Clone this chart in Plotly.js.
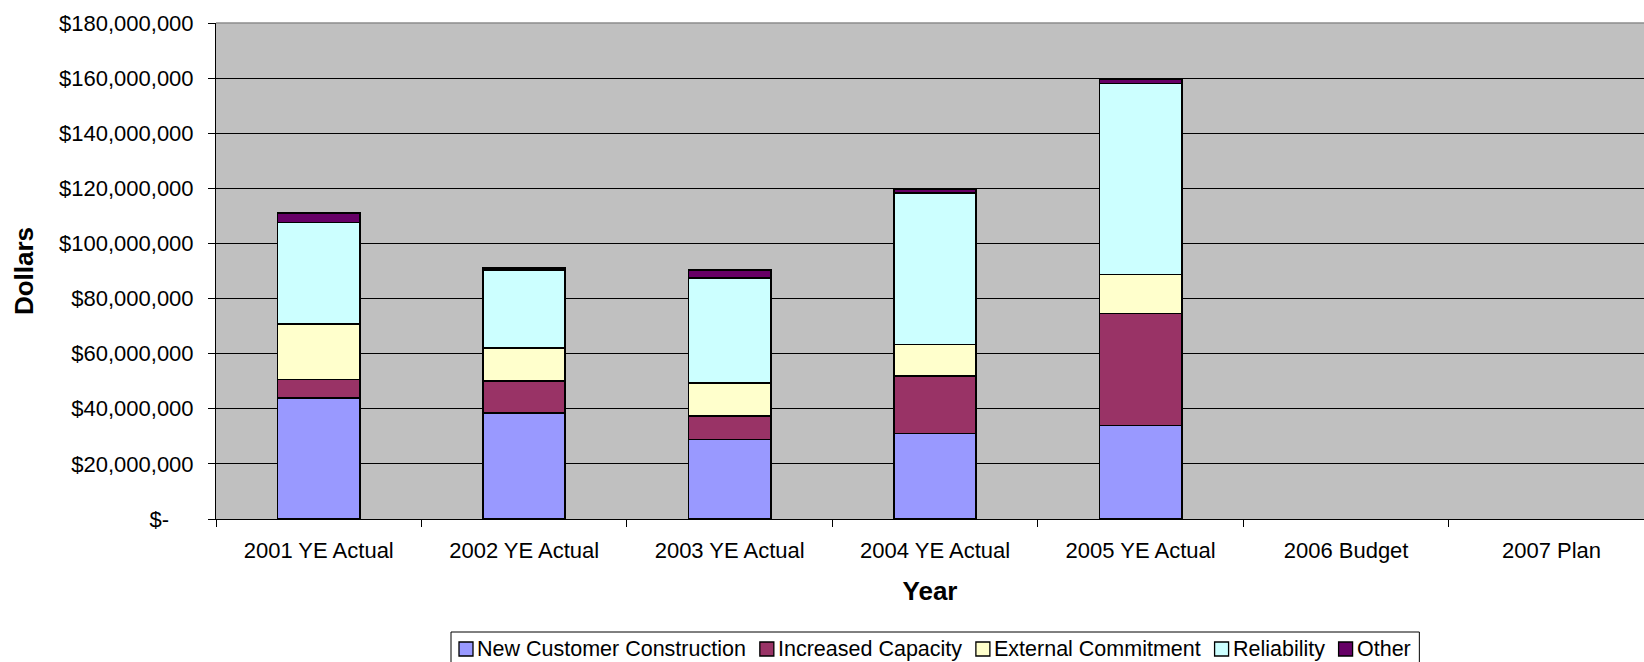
<!DOCTYPE html>
<html>
<head>
<meta charset="utf-8">
<script src="https://cdn.plot.ly/plotly-3.0.1.min.js"></script>
<style>
  html, body { margin: 0; padding: 0; background: #ffffff; }
  #chart { width: 1644px; height: 662px; }
</style>
</head>
<body>
<div id="chart"></div>
<script>
// ---- Data ----
const categories = ["2001 YE Actual", "2002 YE Actual", "2003 YE Actual", "2004 YE Actual", "2005 YE Actual", "2006 Budget", "2007 Plan"];
const seriesNames = ["New Customer Construction", "Increased Capacity", "External Commitment", "Reliability", "Other"];
const newCustomerConstruction = [43900000, 38500000, 28900000, 31100000, 33900000, null, null];
const increasedCapacity       = [6700000, 11600000, 8500000, 20800000, 40700000, null, null];
const externalCommitment      = [20100000, 12000000, 12000000, 11500000, 14200000, null, null];
const reliability             = [36900000, 28200000, 38100000, 54900000, 69200000, null, null];
const other                   = [3400000, 800000, 2800000, 1500000, 1700000, null, null];
const yTickValues = [0, 20000000, 40000000, 60000000, 80000000, 100000000, 120000000, 140000000, 160000000, 180000000];
const yTickLabels = ["$-\u00a0\u00a0\u00a0\u00a0", "$20,000,000", "$40,000,000", "$60,000,000", "$80,000,000", "$100,000,000", "$120,000,000", "$140,000,000", "$160,000,000", "$180,000,000"];

// ---- Styling ----
const colors = ["#9999FF", "#993366", "#FFFFCC", "#CCFFFF", "#660066"];
const seriesValues = [newCustomerConstruction, increasedCapacity, externalCommitment, reliability, other];
const FONT = "Liberation Sans, Arial, sans-serif";

const W = 1644, H = 662;
const M = { l: 216, r: 0, t: 23, b: 143 };
const plotW = W - M.l - M.r, plotH = H - M.t - M.b;
const px2x = p => (p - M.l) / plotW;
const py2y = p => (H - M.b - p) / plotH;

const traces = seriesValues.map((vals, i) => ({
  type: "bar",
  name: seriesNames[i],
  x: categories,
  y: vals,
  width: 0.4,
  marker: { color: colors[i], line: { color: "#000000", width: 1.6 } },
  hoverinfo: "x+y+name",
  showlegend: false
}));

// ---- Legend drawn as layout shapes + annotations (Excel-style compact legend) ----
const LEG_FONT = 21.5;
const ctx = document.createElement("canvas").getContext("2d");
ctx.font = LEG_FONT + "px 'Liberation Sans'";
const shapes = [];
const annotations = [];
const legTop = 632, legMid = 649, sq = 14;
let cx = 459;
const legLeft = 451;
seriesNames.forEach((name, i) => {
  shapes.push({ type: "rect", xref: "paper", yref: "paper",
    x0: px2x(cx), x1: px2x(cx + sq), y0: py2y(legMid + sq / 2), y1: py2y(legMid - sq / 2),
    fillcolor: colors[i], line: { color: "#000000", width: 1.3 }, layer: "above" });
  annotations.push({ xref: "paper", yref: "paper", x: px2x(cx + sq + 3), y: py2y(legMid),
    xanchor: "left", yanchor: "middle", showarrow: false, text: name, borderpad: 0,
    font: { family: FONT, size: LEG_FONT, color: "#000000" } });
  cx += sq + 5 + ctx.measureText(name).width + 13;
});
const legRight = cx - 13 + 8;
shapes.unshift({ type: "rect", xref: "paper", yref: "paper",
  x0: px2x(legLeft), x1: px2x(legRight), y0: py2y(H + 10), y1: py2y(legTop),
  fillcolor: "#ffffff", line: { color: "#000000", width: 1 }, layer: "above" });
shapes.push({ type: "line", xref: "paper", yref: "paper", x0: 0, x1: 1, y0: 1, y1: 1,
  line: { color: "#8c8c8c", width: 1.5 }, layer: "above" });

const layout = {
  width: W,
  height: H,
  barmode: "stack",
  paper_bgcolor: "#ffffff",
  plot_bgcolor: "#C0C0C0",
  font: { family: FONT, size: 22, color: "#000000" },
  margin: { l: M.l, r: M.r, t: M.t, b: M.b, autoexpand: false },
  showlegend: false,
  xaxis: {
    type: "category",
    range: [-0.5, 6.45],
    tickson: "boundaries",
    ticks: "outside",
    ticklen: 7,
    tickcolor: "#000000",
    ticklabelstandoff: 12,
    showline: true,
    linecolor: "#000000",
    linewidth: 1,
    showgrid: false,
    zeroline: false,
    tickfont: { family: FONT, size: 22, color: "#000000" },
    title: { text: "<b>Year</b>", font: { family: FONT, size: 26, color: "#000000" }, standoff: 19 }
  },
  yaxis: {
    range: [0, 180000000],
    tickmode: "array",
    tickvals: yTickValues,
    ticktext: yTickLabels,
    ticks: "outside",
    ticklen: 7,
    tickcolor: "#000000",
    ticklabelstandoff: 10,
    showline: true,
    linecolor: "#000000",
    linewidth: 1,
    showgrid: true,
    gridcolor: "#000000",
    gridwidth: 1,
    zeroline: false,
    tickfont: { family: FONT, size: 22, color: "#000000" },
    title: { text: "<b>Dollars</b>", font: { family: FONT, size: 26, color: "#000000" }, standoff: 17 }
  },
  shapes: shapes,
  annotations: annotations
};

Plotly.newPlot("chart", traces, layout, { displayModeBar: false, staticPlot: true });
</script>
</body>
</html>
